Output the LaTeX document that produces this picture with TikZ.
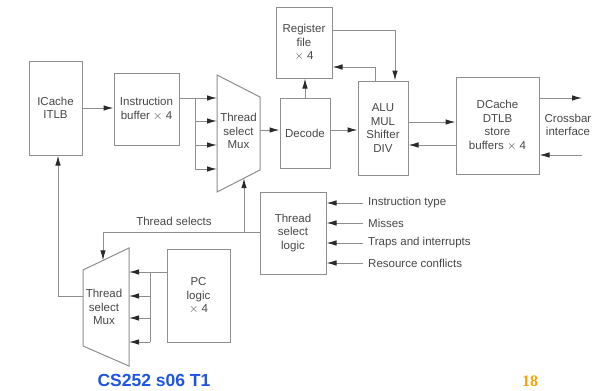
\documentclass[tikz,border=0pt]{standalone}
\usepackage{fontspec}
\setmainfont{Liberation Sans}
\newfontfamily\serifb{Liberation Serif}
\usetikzlibrary{arrows.meta}
\definecolor{ln}{HTML}{8E8E8E}
\definecolor{tx}{HTML}{474747}
\definecolor{hd}{HTML}{2A2A2A}
\definecolor{ftblue}{HTML}{1F55E6}
\definecolor{ftorange}{HTML}{F5A300}
\begin{document}
\begin{tikzpicture}[x=1pt,y=-1pt,
  font=\fontsize{11.5}{13.5}\selectfont,
  box/.style={draw=ln, line width=1pt, align=center, text=tx, inner sep=0pt},
  wire/.style={draw=ln, line width=1pt},
  arr/.style={wire, -{Latex[length=10pt,width=5.5pt,color=hd]}},
  lbl/.style={text=tx, inner sep=0pt, align=center}]
\useasboundingbox (0,0) rectangle (600,391);
\fill[white] (0,0) rectangle (600,391);

% boxes
\node[box, minimum width=53pt, minimum height=94pt] (icache) at (55.5,108) {ICache\\ITLB};
\node[box, minimum width=65pt, minimum height=72pt] (ibuf) at (146.5,109) {Instruction\\buffer $\times$ 4};
\node[box, minimum width=50pt, minimum height=70pt] (decode) at (305,133) {Decode};
\node[box, minimum width=56pt, minimum height=71pt] (regf) at (304,42.5) {Register\\file\\$\times$ 4};
\node[box, minimum width=50pt, minimum height=94pt] (alu) at (383,128) {ALU\\MUL\\Shifter\\DIV};
\node[box, minimum width=83pt, minimum height=97pt] (dcache) at (497.5,125.5) {DCache\\DTLB\\store\\buffers $\times$ 4};
\node[box, minimum width=66pt, minimum height=82pt] (tsl) at (293,233) {Thread\\select\\logic};
\node[box, minimum width=63pt, minimum height=93pt] (pc) at (198.5,295.5) {PC\\logic\\$\times$ 4};

% top mux
\coordinate (tmA) at (217,75);
\coordinate (tmB) at (260,97);
\coordinate (tmC) at (260,170);
\coordinate (tmD) at (217,192);
\draw[wire] (tmA) -- (tmB) -- (tmC) -- (tmD) -- cycle;
\node[lbl] (tmux) at (238.5,131) {Thread\\select\\Mux};

% bottom mux
\coordinate (bmA) at (83,270);
\coordinate (bmB) at (129,248);
\coordinate (bmC) at (129,366);
\coordinate (bmD) at (83,346);
\draw[wire] (bmA) -- (bmB) -- (bmC) -- (bmD) -- cycle;
\node[lbl] (bmux) at (104,307) {Thread\\select\\Mux};

% ICache -> instruction buffer
\draw[arr] (icache.east) -- (icache.east -| ibuf.west);

% instruction buffer -> top mux
\coordinate (ib1) at (195,98);
\coordinate (ib2) at (195,121);
\coordinate (ib3) at (195,145);
\coordinate (ib4) at (195,169);
\draw[wire] (ib1 -| ibuf.east) -- (ib1) -- (ib4);
\foreach \c in {ib1,ib2,ib3,ib4} \draw[arr] (\c) -- (\c -| tmA);

% top mux -> decode
\coordinate (tmout) at (260,130);
\draw[arr] (tmout) -- (tmout -| decode.west);

% decode -> register file
\draw[arr] (decode.north) -- (decode.north |- regf.south);

% register file -> ALU
\coordinate (r1) at (395,30);
\draw[arr] (r1 -| regf.east) -- (r1) -- (r1 |- alu.north);
% ALU -> register file
\coordinate (r2) at (375,67);
\draw[arr] (r2 |- alu.north) -- (r2) -- (r2 -| regf.east);

% decode -> ALU
\draw[arr] (tmout -| decode.east) -- (tmout -| alu.west);

% ALU <-> DCache
\coordinate (a1) at (430,122);
\coordinate (a2) at (430,145);
\draw[arr] (a1 -| alu.east) -- (a1 -| dcache.west);
\draw[arr] (a2 -| dcache.west) -- (a2 -| alu.east);

% crossbar
\coordinate (xo) at (582,98);
\coordinate (xi) at (582,155);
\draw[arr] (xo -| dcache.east) -- (xo);
\draw[arr] (xi) -- (xi -| dcache.east);
\node[lbl] (xbar) at (568,125) {Crossbar\\interface};

% thread select logic inputs
\coordinate (in1) at (363,203);
\coordinate (in2) at (363,223);
\coordinate (in3) at (363,243);
\coordinate (in4) at (363,263);
\foreach \c in {in1,in2,in3,in4} \draw[arr] (\c) -- (\c -| tsl.east);
\node[lbl, anchor=west] (l1) at (368,203) {Instruction type};
\node[lbl, anchor=west] (l2) at (368,223) {Misses};
\node[lbl, anchor=west] (l3) at (368,243) {Traps and interrupts};
\node[lbl, anchor=west] (l4) at (368,263) {Resource conflicts};

% thread selects
\coordinate (ts) at (244,232);
\coordinate (ts2) at (103,232);
\coordinate (tmbot) at (244,178.2);
\coordinate (bmtop) at (103,260.4);
\draw[wire] (ts -| tsl.west) -- (ts2);
\draw[arr] (ts2) -- (bmtop);
\draw[arr] (ts) -- (tmbot);
\node[lbl] (tslabel) at (174,221) {Thread selects};

% bottom mux -> ICache
\coordinate (bmo) at (83,296);
\coordinate (c1) at (58,296);
\draw[arr] (bmo) -- (c1) -- (c1 |- icache.south);

% PC logic -> bottom mux
\coordinate (p1) at (150,272);
\coordinate (p2) at (150,296);
\coordinate (p3) at (150,318);
\coordinate (p4) at (150,342);
\draw[wire] (p1 -| pc.west) -- (p1) -- (p4);
\foreach \c in {p1,p2,p3,p4} \draw[arr] (\c) -- (\c -| bmB);

% footer
\node[text=ftblue, inner sep=0pt, font=\fontsize{17.5}{20}\selectfont\bfseries] (foot) at (154,380) {CS252 s06 T1};
\node[text=ftorange, inner sep=0pt, font=\fontsize{16}{18}\serifb\bfseries] (page) at (530,381) {18};
\end{tikzpicture}
\end{document}
